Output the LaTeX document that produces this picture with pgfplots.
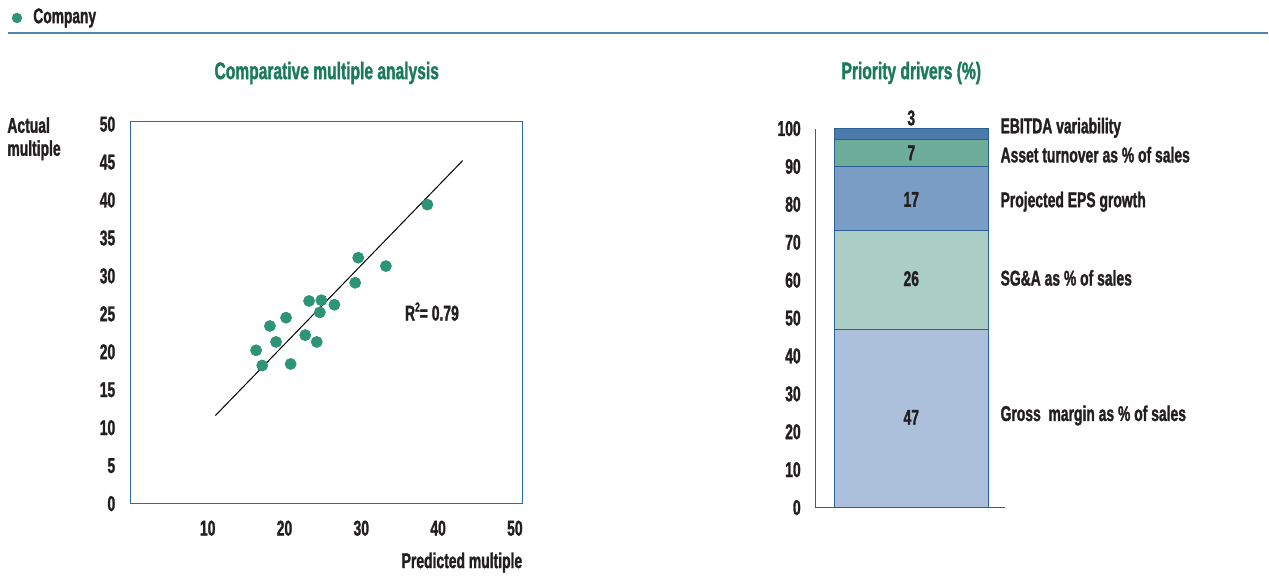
\documentclass[border=0pt]{standalone}
\usepackage{fontspec}
\setmainfont{Liberation Sans}[FakeStretch=0.65, BoldFeatures={FakeBold=1.3}]
\usepackage{pgfplots}
\pgfplotsset{compat=1.18}

\definecolor{txt}{HTML}{231F20}
\definecolor{ttl}{HTML}{1B7A5A}
\definecolor{dot}{HTML}{2E9478}
\definecolor{frame}{HTML}{2B6CA3}
\definecolor{hdr}{HTML}{4A86B0}
\definecolor{edge}{HTML}{2A6096}
\definecolor{sA}{HTML}{ADC0DB}
\definecolor{sB}{HTML}{ABCEC4}
\definecolor{sC}{HTML}{7A9DC5}
\definecolor{sD}{HTML}{6EAD9A}
\definecolor{sE}{HTML}{4B7BAA}

\pgfplotstableread{
x y
38.6 39.4
29.6 32.4
33.2 31.3
29.2 29.1
23.2 26.7
24.8 26.8
26.5 26.2
24.6 25.2
20.2 24.5
18.1 23.4
18.9 21.3
22.7 22.2
24.2 21.3
16.3 20.2
17.1 18.2
20.8 18.4
}\scatterdata

\pgfplotsset{baraxis/.style={
    at={(408pt,36.5pt)}, anchor=south west,
    scale only axis, width=95pt, height=189.65pt,
    xmin=0, xmax=190, ymin=0, ymax=100, clip=false}}

\begin{document}
\begin{tikzpicture}[font=\fontsize{10.7}{11.5}\selectfont\bfseries, text=txt]
\path (0,0) rectangle (634.5pt,290.5pt);

% header
\fill[dot] (8.5pt,281.5pt) circle (2.6pt);
\node[anchor=west, inner sep=0pt, font=\fontsize{10.6}{12}\selectfont\bfseries] at (16.5pt,281.5pt) {Company};
\draw[hdr, line width=1pt] (4pt,274pt) -- (634.5pt,274pt);

% titles
\node[ttl, font=\fontsize{12}{13}\selectfont\bfseries] at (163.5pt,254pt) {Comparative multiple analysis};
\node[ttl, font=\fontsize{12}{13}\selectfont\bfseries] at (456pt,254pt) {Priority drivers (\%)};

\node[anchor=north west, align=left, inner sep=0pt] at (3.5pt,232pt) {Actual\\multiple};
\node[anchor=east, inner sep=0pt] at (261.5pt,9pt) {Predicted multiple};

\begin{axis}[
    at={(65.5pt,38.5pt)}, anchor=south west,
    scale only axis, width=196pt, height=191pt,
    xmin=0, xmax=51, ymin=0, ymax=50.3,
    xtick={10,20,...,50}, ytick={0,5,...,50},
    major tick length=0,
    axis line style={draw=frame, line width=0.6pt},
    /pgf/number format/assume math mode=true,
    ticklabel style={font=\fontsize{10.7}{11}\selectfont\bfseries, text=txt},
    yticklabel style={xshift=-4.3pt},
    xticklabel style={yshift=-5pt},
]
\addplot[black, line width=0.5pt] coordinates {(11.0,11.6) (43.2,45.2)};
\addplot[only marks, color=dot, mark=*, mark size=2.75pt, mark options={fill=dot, draw=none}]
    table[x=x, y=y] {\scatterdata};
\node[text=txt] at (axis cs:39.2,25.3) {R\raisebox{0.8ex}{\fontsize{6.5}{6}\selectfont 2}= 0.79};
\end{axis}

\begin{axis}[
    baraxis,
    axis lines=left,
    axis line style={-, draw=edge, line width=0.6pt},
    xtick=\empty, ytick={0,10,...,100},
    major tick length=0,
    /pgf/number format/assume math mode=true,
    ticklabel style={font=\fontsize{10.7}{11}\selectfont\bfseries, text=txt},
    yticklabel style={xshift=-3.8pt},
    ybar stacked, bar width=154,
]
\addplot[fill=sA, draw=edge, line width=0.5pt] coordinates {(96,47)};
\addplot[fill=sB, draw=edge, line width=0.5pt] coordinates {(96,26)};
\addplot[fill=sC, draw=edge, line width=0.5pt] coordinates {(96,17)};
\addplot[fill=sD, draw=edge, line width=0.5pt] coordinates {(96,7)};
\addplot[fill=sE, draw=edge, line width=0.5pt] coordinates {(96,3)};
\end{axis}

\begin{axis}[baraxis, hide axis]
\node at (axis cs:96,23.8) {47};
\node at (axis cs:96,60.4) {26};
\node at (axis cs:96,81.3) {17};
\node at (axis cs:96,93.6) {7};
\node at (axis cs:96,102.8) {3};
\node[anchor=west, inner sep=0pt] at (axis cs:185,100.2) {EBITDA variability};
\node[anchor=west, inner sep=0pt] at (axis cs:185,93.1) {Asset turnover as \% of sales};
\node[anchor=west, inner sep=0pt] at (axis cs:185,80.7) {Projected EPS growth};
\node[anchor=west, inner sep=0pt] at (axis cs:185,60.6) {SG\&A as \% of sales};
\node[anchor=west, inner sep=0pt] at (axis cs:185,24.3) {Gross~ margin as \% of sales};
\end{axis}
\end{tikzpicture}
\end{document}
